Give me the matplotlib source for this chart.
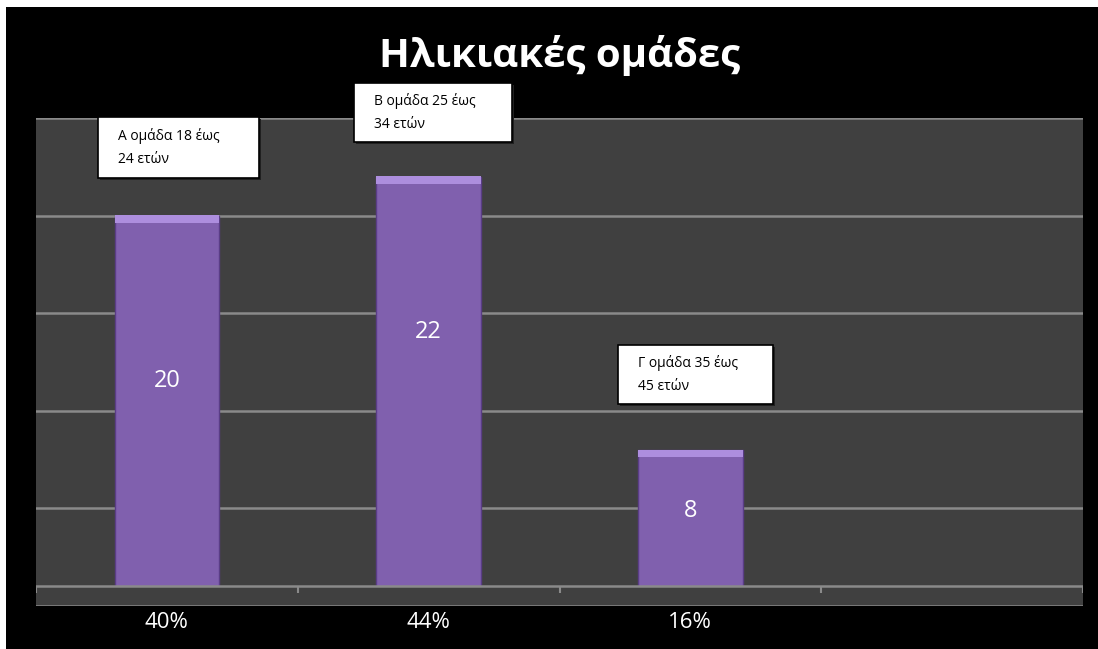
import matplotlib.pyplot as plt
from matplotlib.patches import Rectangle

plt.rcParams['font.family'] = ['Open Sans', 'DejaVu Sans']

# δεδομένα
categories = ['40%', '44%', '16%', '']
values = [20, 22, 8]
group_notes = ['Α ομάδα 18 έως\n24 ετών', 'Β ομάδα 25 έως\n34 ετών', 'Γ ομάδα 35 έως\n45 ετών']

W, H = 1098, 649
fig = plt.figure(figsize=(W / 100, H / 100), dpi=100)
fig.patch.set_facecolor('white')
# μαύρο φόντο με λευκό περιθώριο πάνω/αριστερά
fig.add_artist(Rectangle((6 / W, -0.01), 1.0, 1.01 - 7 / H, transform=fig.transFigure,
                         facecolor='black', edgecolor='none', zorder=0))

ax = fig.add_axes([36 / W, (H - 605.5) / H, (1083 - 36) / W, (605.5 - 118) / H])
bg = '#404040'
grid_c = '#8a8a8a'
ax.set_facecolor(bg)
ax.set_xlim(-0.5, len(categories) - 0.5)
ax.set_ylim(0, 25)

for s in ax.spines.values():
    s.set_visible(False)

ax.set_yticks([0, 5, 10, 15, 20, 25])
ax.set_yticklabels([])
ax.tick_params(axis='y', length=0)
ax.grid(axis='y', color=grid_c, linewidth=1.8, zorder=0)
ax.set_axisbelow(True)

x = list(range(len(values)))
bars = ax.bar(x, values, width=0.4, color='#8060ae', edgecolor='#5a3d86', linewidth=1, zorder=2)
# φωτεινή πάνω ακμή
ax.bar(x, [0.4] * len(values), bottom=[v - 0.4 for v in values], width=0.4,
       color='#ad8ede', edgecolor='none', zorder=2.5)

# πάτωμα
ax.axhspan(0, 1, facecolor=bg, edgecolor='none', zorder=3)
ax.axhline(1, color=grid_c, linewidth=1.8, zorder=4)
ax.axhline(0, color=grid_c, linewidth=1.8, zorder=4)
ax.vlines([i - 0.5 for i in range(len(categories) + 1)], 0.62, 1, color=grid_c,
          linewidth=1.5, zorder=4)

# ετικέτες τιμών
label_y = [11.5, 14.0, 4.85]
for xi, v, ly in zip(x, values, label_y):
    ax.text(xi, ly, str(v), ha='center', va='center', color='white', fontsize=17, zorder=5)

ax.set_xticks(range(len(categories)))
ax.set_xticklabels(categories, color='white', fontsize=16)
ax.tick_params(axis='x', length=0, pad=5)

fig.text(560 / W, 1 - 55 / H, 'Ηλικιακές ομάδες', ha='center', va='center',
         color='white', fontsize=29, fontweight='bold')

# πλαίσια σημειώσεων (αριστερά, πάνω, δεξιά, κάτω σε pixel)
boxes = [(98, 117, 259, 178), (354, 83, 512, 142), (618, 345, 773, 404)]
for (l, t, r, b), note in zip(boxes, group_notes):
    fig.add_artist(Rectangle((l / W + 2 / W, 1 - (b + 2) / H), (r - l) / W, (b - t) / H,
                             transform=fig.transFigure, facecolor='#202020',
                             edgecolor='none', zorder=6))
    fig.add_artist(Rectangle((l / W, 1 - b / H), (r - l) / W, (b - t) / H,
                             transform=fig.transFigure, facecolor='white',
                             edgecolor='black', linewidth=1.2, zorder=7))
    fig.text((l + 20) / W, 1 - (t + b) / 2 / H, note, ha='left', va='center',
             color='black', fontsize=10, linespacing=1.75, zorder=8)

fig.savefig('out.png', dpi=100, facecolor=fig.get_facecolor())
